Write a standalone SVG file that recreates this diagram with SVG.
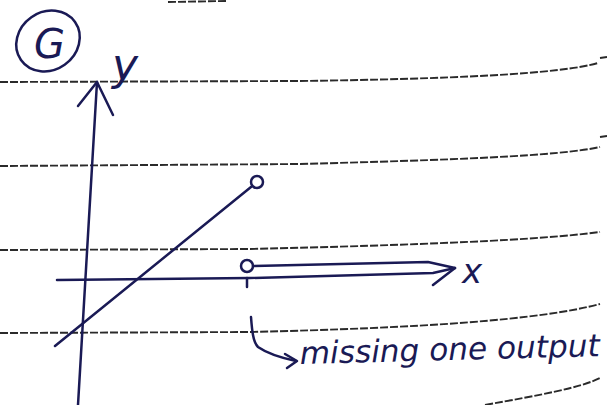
<svg xmlns="http://www.w3.org/2000/svg" width="607" height="405" viewBox="0 0 607 405">
<style>
.rule{fill:none;stroke:#2a2a2a;stroke-width:1.9;stroke-dasharray:8 2}
.ink{fill:none;stroke:#1a1a55;stroke-width:2.5;stroke-linecap:round;stroke-linejoin:round}
.hand{fill:#1a1a55;font-family:"DejaVu Sans",sans-serif;font-style:italic}
</style>
<rect width="607" height="405" fill="#ffffff"/>
<g id="paper-rules">
<path class="rule" d="M168,2 L226,1"/>
<path class="rule" d="M0,82 L300,81 C450,79 560,74 598,63"/>
<path class="rule" d="M0,166 L300,164 C450,160 560,156 600,147"/>
<path class="rule" d="M0,250 L250,249 C420,245 540,240 600,232"/>
<path class="rule" d="M0,333 L250,332 C420,328 540,320 600,304"/>
<path class="rule" d="M485,405 C540,395 580,388 600,378"/>
<path class="rule" d="M600,58 L607,57"/>
<path class="rule" d="M600,137 L607,136"/>
</g>
<g id="label-G">
<ellipse class="ink" cx="48" cy="41" rx="33" ry="29" transform="rotate(-35 48 41)"/>
<text class="hand" x="34" y="58" font-size="40" font-style="normal">G</text>
</g>
<g id="y-axis">
<path class="ink" d="M78,405 L97,82"/>
<path class="ink" d="M78,106 L97,82 L113,115"/>
<text class="hand" x="112" y="80" font-size="44">y</text>
</g>
<g id="x-axis">
<path class="ink" d="M57,280 L250,278 L433,273 L455,268"/>
<path class="ink" d="M253,266 L428,262 L455,268 L433,285"/>
<path class="ink" d="M247,278 L247,287"/>
<circle class="ink" cx="247" cy="266" r="6"/>
<text class="hand" x="462" y="283" font-size="34">x</text>
</g>
<g id="line-segment">
<path class="ink" d="M55,346 L251,187"/>
<circle class="ink" cx="257" cy="182" r="6"/>
</g>
<g id="connectors">
<path class="ink" d="M251,317 C252,330 253,342 258,347 C268,354 282,358 296,361"/>
<path class="ink" d="M285,354 L297,361 L287,368"/>
</g>
<g id="note">
<text class="hand" x="300" y="364" font-size="31" textLength="300" lengthAdjust="spacingAndGlyphs" transform="rotate(-1.5 300 364)">missing one output</text>
</g>
</svg>
